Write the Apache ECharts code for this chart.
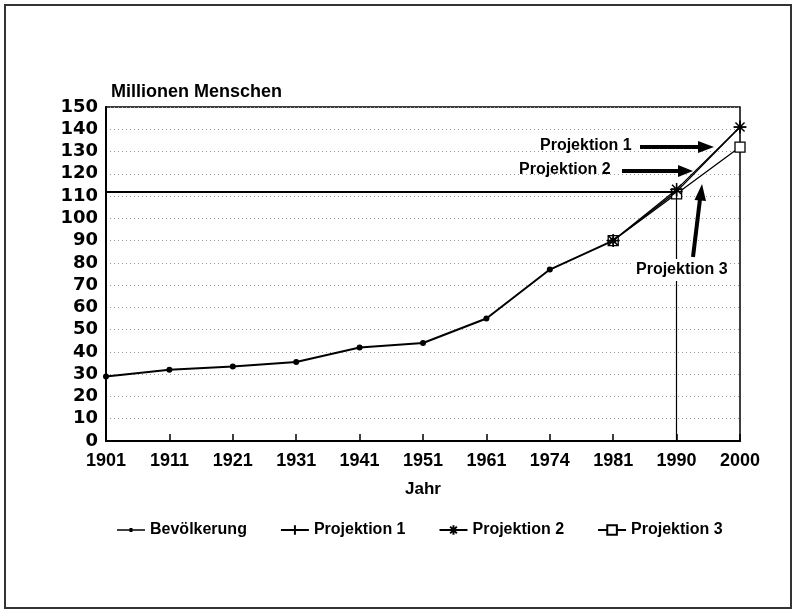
<!DOCTYPE html>
<html>
<head>
<meta charset="utf-8">
<script src="https://cdn.jsdelivr.net/npm/echarts@6/dist/echarts.min.js"></script>
<style>
  html, body { margin: 0; padding: 0; background: #fff; }
  #chart { width: 796px; height: 613px; }
</style>
</head>
<body>
<div id="chart"></div>
<script>
// Jahre (Kategorien) und Werte in Millionen
var jahre = ['1901', '1911', '1921', '1931', '1941', '1951', '1961', '1974', '1981', '1990', '2000'];
var bevoelkerung = [29, 32, 33.5, 35.5, 42, 44, 55, 77, 90, null, null];
var projektion1 = [null, null, null, null, null, null, null, null, 90, 112, 141];
var projektion2 = [null, null, null, null, null, null, null, null, 90, 113, 141];
var projektion3 = [null, null, null, null, null, null, null, null, 90, 111, 132];
var refJahr = '1990';
var refWert = 112;

var font = 'Liberation Sans';
var myChart = echarts.init(document.getElementById('chart'));

var option = {
  backgroundColor: '#fff',
  animation: false,
  title: {
    text: 'Millionen Menschen',
    left: 106,
    top: 78,
    textStyle: { fontFamily: font, fontWeight: 'bold', fontSize: 18, color: '#000' }
  },
  grid: {
    left: 106, right: 56, top: 107, bottom: 172,
    show: true, borderColor: '#000', borderWidth: 1.5
  },
  legend: {
    bottom: 70,
    left: 112,
    itemWidth: 28,
    itemHeight: 12,
    itemGap: 33,
    textStyle: { fontFamily: font, fontWeight: 'bold', fontSize: 16, color: '#000' },
    data: [
      { name: 'Bevölkerung', icon: 'path://M0,0L0,0M28,12L28,12M0,5.3H28V6.7H0ZM12.5,4H15.5V8H12.5Z' },
      'Projektion 1', 'Projektion 2', 'Projektion 3'
    ]
  },
  xAxis: {
    type: 'category',
    data: jahre,
    boundaryGap: false,
    name: 'Jahr',
    nameLocation: 'middle',
    nameGap: 40,
    nameTextStyle: { fontFamily: font, fontWeight: 'bold', fontSize: 17, color: '#000' },
    axisLine: { lineStyle: { color: '#000', width: 2 } },
    axisTick: { inside: true, length: 7, lineStyle: { color: '#000', width: 1.5 } },
    axisLabel: { fontFamily: font, fontWeight: 'bold', fontSize: 18, color: '#000', margin: 11 },
    splitLine: { show: false }
  },
  yAxis: {
    type: 'value',
    min: 0, max: 150, interval: 10,
    axisLine: { show: true, lineStyle: { color: '#000', width: 2 } },
    axisTick: { show: false },
    axisLabel: { fontFamily: 'DejaVu Sans', fontWeight: 'bold', fontSize: 18, color: '#000', margin: 8 },
    splitLine: { lineStyle: { color: '#999', type: [1, 3], width: 1 } }
  },
  series: [
    {
      name: 'Bevölkerung',
      type: 'line',
      z: 5,
      data: bevoelkerung,
      symbol: 'circle',
      symbolSize: 6,
      itemStyle: { color: '#000' },
      lineStyle: { color: '#000', width: 2 },
      markLine: {
        silent: true,
        symbol: 'none',
        label: { show: false },
        data: [
          [{ coord: [0, refWert], lineStyle: { width: 2 } }, { coord: [refJahr, refWert] }],
          [{ coord: [refJahr, refWert], lineStyle: { width: 1.2 } }, { coord: [refJahr, 0] }]
        ],
        lineStyle: { color: '#000', type: 'solid' }
      }
    },
    {
      name: 'Projektion 1',
      type: 'line',
      z: 4,
      data: projektion1,
      symbol: 'path://M0,-1L0,1M-1,0L1,0',
      symbolSize: 12,
      itemStyle: { color: 'none', borderColor: '#000', borderWidth: 1.3 },
      lineStyle: { color: '#000', width: 1.3 }
    },
    {
      name: 'Projektion 2',
      type: 'line',
      z: 3,
      data: projektion2,
      symbol: 'path://M0,-1L0,1M-1,0L1,0M-0.7,-0.7L0.7,0.7M-0.7,0.7L0.7,-0.7',
      symbolSize: 13,
      itemStyle: { color: 'none', borderColor: '#000', borderWidth: 1.5 },
      lineStyle: { color: '#000', width: 1.3 }
    },
    {
      name: 'Projektion 3',
      type: 'line',
      z: 2,
      data: projektion3,
      symbol: 'rect',
      symbolSize: 10,
      itemStyle: { color: '#fff', borderColor: '#000', borderWidth: 1.3 },
      lineStyle: { color: '#000', width: 1.3 }
    }
  ],
  graphic: [
    // Rahmen
    { type: 'rect', shape: { x: 5, y: 5, width: 786, height: 603 }, style: { fill: 'none', stroke: '#333', lineWidth: 2 }, silent: true },
    // Beschriftungen mit Pfeilen
    { type: 'text', left: 540, top: 138, z: 20, style: { text: 'Projektion 1', fill: '#000', font: 'bold 16px ' + font } },
    { type: 'line', z: 20, shape: { x1: 640, y1: 147, x2: 700, y2: 147 }, style: { stroke: '#000', lineWidth: 4 } },
    { type: 'polygon', z: 20, shape: { points: [[698, 141], [714, 147], [698, 153]] }, style: { fill: '#000' } },
    { type: 'text', left: 519, top: 162, z: 20, style: { text: 'Projektion 2', fill: '#000', font: 'bold 16px ' + font } },
    { type: 'line', z: 20, shape: { x1: 622, y1: 171, x2: 680, y2: 171 }, style: { stroke: '#000', lineWidth: 4 } },
    { type: 'polygon', z: 20, shape: { points: [[678, 165], [693, 171], [678, 177]] }, style: { fill: '#000' } },
    { type: 'text', left: 634, top: 259, z: 20, style: { text: 'Projektion 3', fill: '#000', font: 'bold 16px ' + font, backgroundColor: '#fff', padding: [3, 2, 3, 2] } },
    { type: 'line', z: 20, shape: { x1: 693, y1: 257, x2: 700, y2: 199 }, style: { stroke: '#000', lineWidth: 4 } },
    { type: 'polygon', z: 20, shape: { points: [[694.5, 200], [702, 184], [706, 201]] }, style: { fill: '#000' } }
  ]
};

myChart.setOption(option);
</script>
</body>
</html>
